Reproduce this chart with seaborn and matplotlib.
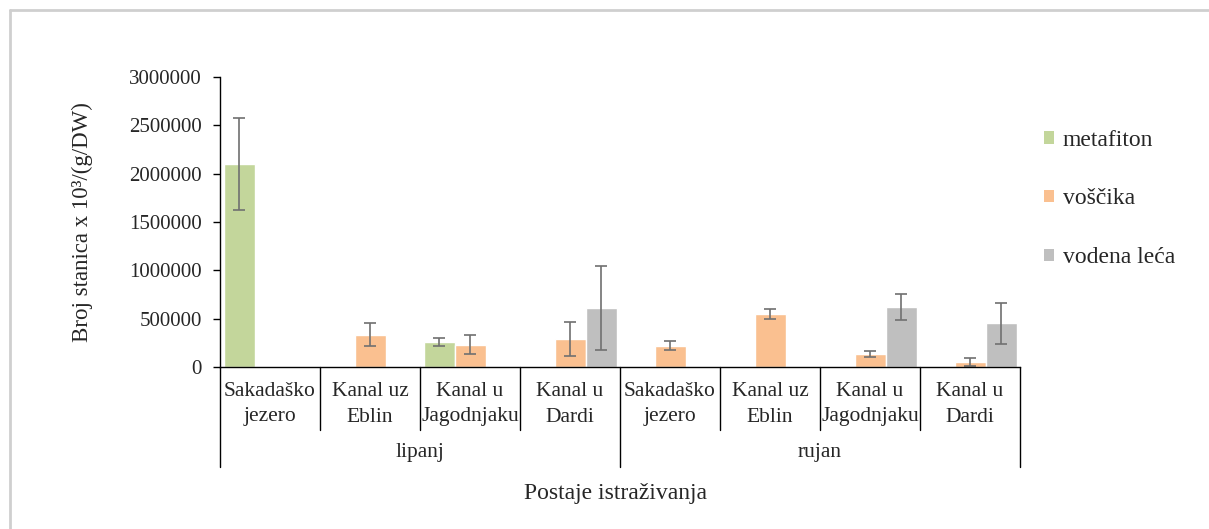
import numpy as np
import pandas as pd
import seaborn as sns
import matplotlib.pyplot as plt
from matplotlib.lines import Line2D
from matplotlib.patches import Patch
import matplotlib.transforms as mtransforms

# Data
stations = ['Sakadaško\njezero', 'Kanal uz\nEblin', 'Kanal u\nJagodnjaku', 'Kanal u\nDardi']
months = ['lipanj', 'rujan']
series = ['metafiton', 'voščika', 'vodena leća']
colors = ['#C3D69B', '#FAC090', '#BFBFBF']

# values per slot: lipanj x 4 stations, then rujan x 4 stations
metafiton = [2105000, np.nan, 257000, np.nan, np.nan, np.nan, np.nan, np.nan]
metafiton_err = [476000, np.nan, 43000, np.nan, np.nan, np.nan, np.nan, np.nan]
voscika = [np.nan, 335000, 232000, 287000, 220000, 551000, 135000, 50000]
voscika_err = [np.nan, 116000, 99000, 176000, 46000, 53000, 27000, 42000]
vodena_leca = [np.nan, np.nan, np.nan, 613000, np.nan, np.nan, 622000, 455000]
vodena_leca_err = [np.nan, np.nan, np.nan, 432000, np.nan, np.nan, 136000, 212000]

values = {'metafiton': metafiton, 'voščika': voscika, 'vodena leća': vodena_leca}
errors = {'metafiton': metafiton_err, 'voščika': voscika_err, 'vodena leća': vodena_leca_err}

slots = [f'{m}|{s}' for m in months for s in stations]

rows = []
for name in series:
    for slot, v in zip(slots, values[name]):
        if not np.isnan(v):
            rows.append({'slot': slot, 'series': name, 'value': v})
df = pd.DataFrame(rows)

sns.set_style('white')
plt.rcParams['font.family'] = ['Liberation Serif', 'DejaVu Serif']

fig = plt.figure(figsize=(12.09, 5.29), dpi=100)
ax = fig.add_axes([220 / 1209, (529 - 367) / 529, 800 / 1209, 290 / 529])

sns.barplot(data=df, x='slot', y='value', hue='series', order=slots,
            hue_order=series, palette=colors, width=0.93, errorbar=None,
            saturation=1, legend=False, ax=ax)

# error bars at the bar centres
for name, cont in zip(series, ax.containers):
    for bar in cont:
        xc = bar.get_x() + bar.get_width() / 2
        i = int(round(xc))
        ax.errorbar(xc, bar.get_height(), yerr=errors[name][i], fmt='none',
                    ecolor='#707070', elinewidth=1.2, capsize=4, capthick=1.2)

ax.set_xlim(-0.5, len(slots) - 0.5)
ax.set_ylim(0, 3000000)
ax.set_yticks(np.arange(0, 3000001, 500000))
ax.set_yticklabels([f'{int(t)}' for t in ax.get_yticks()])
ax.tick_params(axis='y', direction='out', length=5, width=1, color='black',
               labelsize=15, pad=8, left=True)
ax.tick_params(axis='x', bottom=False, labelbottom=False)
ax.set_xlabel('')
ax.set_ylabel('')
for sp in ['top', 'right']:
    ax.spines[sp].set_visible(False)
for sp in ['left', 'bottom']:
    ax.spines[sp].set_color('black')
    ax.spines[sp].set_linewidth(1)

# multi-level category axis
trans = mtransforms.blended_transform_factory(ax.transData, ax.transAxes)
px = 1 / 290  # one pixel in axes units (vertical)
for k in range(len(slots) + 1):
    x = k - 0.5
    low = -100 * px if k % 4 == 0 else -63 * px
    ax.plot([x, x], [0, low], color='black', lw=1, transform=trans, clip_on=False)

for k, slot in enumerate(slots):
    line1, line2 = slot.split('|')[1].split('\n')
    ax.text(k, -25 * px, line1, transform=trans, ha='center', va='center', fontsize=15.5)
    ax.text(k, -50 * px, line2, transform=trans, ha='center', va='center', fontsize=15.5)

for j, m in enumerate(months):
    ax.text(j * 4 + 1.5, -86 * px, m, transform=trans, ha='center', va='center', fontsize=15.5)

fig.text(615 / 1209, 1 - 493 / 529, 'Postaje istraživanja', ha='center', va='center', fontsize=17)
fig.text(82 / 1209, 1 - 222 / 529, 'Broj stanica x 10³/(g/DW)', rotation=90,
         ha='center', va='center', fontsize=16.5)

# legend
handles = [Patch(facecolor=c, edgecolor='none', label=s) for s, c in zip(series, colors)]
fig.legend(handles=handles, loc='center left', bbox_to_anchor=(1032 / 1209, 1 - 199 / 529),
           frameon=False, fontsize=17, labelspacing=1.6, handlelength=0.45,
           handleheight=0.45, handletextpad=0.35, borderpad=0)

# outer chart border (top and left visible)
fig.add_artist(Line2D([10 / 1209, 1], [1 - 10 / 529, 1 - 10 / 529], color='#cfcfcf', lw=2,
                      transform=fig.transFigure))
fig.add_artist(Line2D([10 / 1209, 10 / 1209], [0, 1 - 10 / 529], color='#cfcfcf', lw=2,
                      transform=fig.transFigure))

fig.savefig('out.png', dpi=100)
